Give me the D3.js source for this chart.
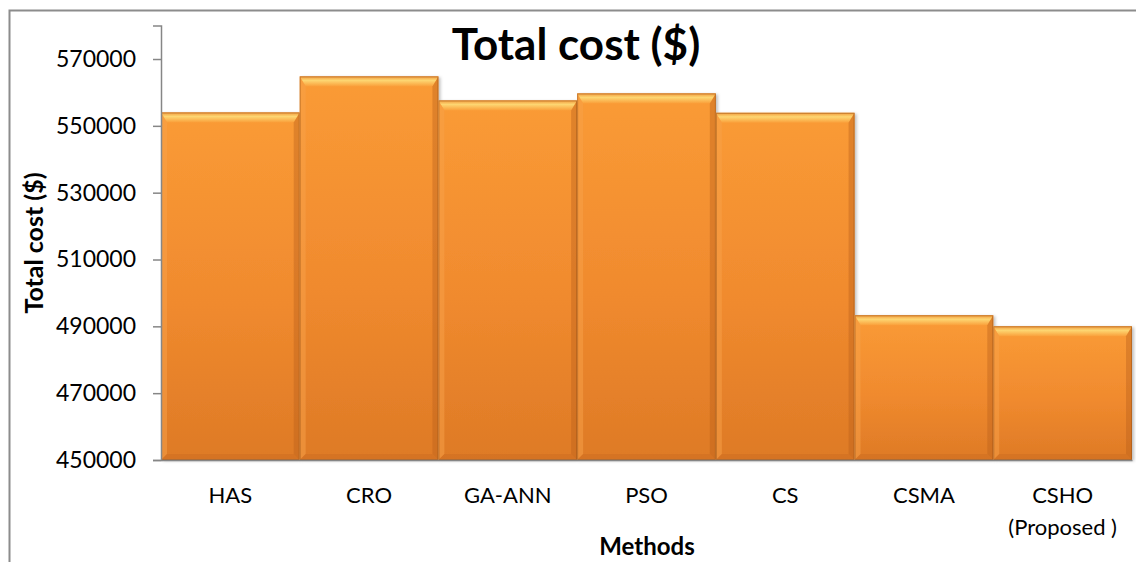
<!DOCTYPE html>
<html>
<head>
<meta charset="utf-8">
<script src="https://cdn.jsdelivr.net/npm/d3@7/dist/d3.min.js"></script>
<style>
  html, body { margin: 0; padding: 0; background: #fff; }
  svg { display: block; font-family: Lato, "Open Sans", sans-serif; }
</style>
</head>
<body>
<svg id="chart" width="1136" height="562"></svg>
<script>
// ---- data ----
const categories = ["HAS", "CRO", "GA-ANN", "PSO", "CS", "CSMA", "CSHO\n(Proposed )"];
const values = [554000, 564800, 557600, 559700, 553900, 493300, 490000];
const yTicks = [450000, 470000, 490000, 510000, 530000, 550000, 570000];
const chartTitle = "Total cost ($)";
const yTitle = "Total cost ($)";
const xTitle = "Methods";

const svg = d3.select("#chart");
const W = 1136, H = 562;
const plot = { left: 161, right: 1132, top: 25.6, bottom: 460 };

// outer border (left and top visible)
svg.append("path")
  .attr("d", `M9.5,${H} L9.5,10.5 L${W},10.5`)
  .attr("fill", "none").attr("stroke", "#8c8c8c").attr("stroke-width", 2);

const x = d3.scaleBand().domain(categories).range([plot.left, plot.right]).padding(0);
const y = d3.scaleLinear().domain([450000, 580000]).range([plot.bottom, plot.top]);

const defs = svg.append("defs");
const g1 = defs.append("linearGradient").attr("id", "barGrad").attr("x1", 0).attr("y1", 0).attr("x2", 0).attr("y2", 1);
g1.append("stop").attr("offset", "0%").attr("stop-color", "#fa9b36");
g1.append("stop").attr("offset", "55%").attr("stop-color", "#f08a2e");
g1.append("stop").attr("offset", "100%").attr("stop-color", "#de7a26");

const gTop = defs.append("linearGradient").attr("id", "topBevel").attr("x1", 0).attr("y1", 0).attr("x2", 0).attr("y2", 1);
gTop.append("stop").attr("offset", "0%").attr("stop-color", "#f29a3c");
gTop.append("stop").attr("offset", "40%").attr("stop-color", "#fdd672");
gTop.append("stop").attr("offset", "100%").attr("stop-color", "#fa9f3a");

const shadow = defs.append("filter").attr("id", "shadow").attr("x", "-5%").attr("y", "-5%").attr("width", "115%").attr("height", "115%");
shadow.append("feDropShadow").attr("dx", 2).attr("dy", 1).attr("stdDeviation", 1.5).attr("flood-color", "#000").attr("flood-opacity", 0.25);

// bars
const bars = svg.append("g").selectAll("g").data(categories).join("g");
bars.each(function(c, i) {
  const gx = d3.select(this);
  const x0 = x(c), w = x.bandwidth(), y0 = y(values[i]), h = y(450000) - y(values[i]);
  const x1 = x0 + w, y1 = y0 + h;
  const bt = 10, bs = 6, bb = 6;
  gx.append("rect").attr("x", x0).attr("y", y0).attr("width", w).attr("height", h)
    .attr("fill", "url(#barGrad)").attr("filter", "url(#shadow)");
  // top bevel
  gx.append("polygon").attr("points", `${x0},${y0} ${x1},${y0} ${x1 - bs},${y0 + bt} ${x0 + bs},${y0 + bt}`)
    .attr("fill", "url(#topBevel)");
  // left bevel
  gx.append("polygon").attr("points", `${x0},${y0} ${x0 + bs},${y0 + bt} ${x0 + bs},${y1 - bb} ${x0},${y1}`)
    .attr("fill", "#f7a24a").attr("opacity", 0.5);
  // right bevel
  gx.append("polygon").attr("points", `${x1},${y0} ${x1 - bs},${y0 + bt} ${x1 - bs},${y1 - bb} ${x1},${y1}`)
    .attr("fill", "#b85f1c").attr("opacity", 0.4);
  // bottom bevel
  gx.append("polygon").attr("points", `${x0},${y1} ${x0 + bs},${y1 - bb} ${x1 - bs},${y1 - bb} ${x1},${y1}`)
    .attr("fill", "#c96a20").attr("opacity", 0.4);
  // outline
  gx.append("rect").attr("x", x0 + 0.5).attr("y", y0 + 0.5).attr("width", w - 1).attr("height", h - 1)
    .attr("fill", "none").attr("stroke", "#9a5418").attr("stroke-opacity", 0.5).attr("stroke-width", 1);
});

// y axis
const yAxis = d3.axisLeft(y).tickValues(yTicks).tickSize(8).tickPadding(17).tickFormat(d3.format("d"));
const ya = svg.append("g").attr("transform", `translate(${plot.left},0)`).call(yAxis);
ya.select(".domain").attr("stroke", "#868686").attr("stroke-width", 1.5);
ya.selectAll(".tick line").attr("stroke", "#868686").attr("stroke-width", 1.5);
ya.selectAll(".tick text").attr("font-size", 23).attr("fill", "#000").attr("font-family", "Lato, sans-serif");

// x axis
const xAxis = d3.axisBottom(x).tickSize(0).tickPadding(0).tickFormat("");
const xa = svg.append("g").attr("transform", `translate(0,${plot.bottom})`).call(xAxis);
xa.select(".domain").attr("stroke", "#868686").attr("stroke-width", 1.5);
xa.selectAll(".tick").each(function(c) {
  const lines = c.split("\n");
  const t = d3.select(this).append("text").attr("fill", "#000").attr("font-size", 22)
    .attr("text-anchor", "middle").attr("font-family", "Lato, sans-serif");
  lines.forEach((ln, k) => t.append("tspan").attr("x", 0).attr("y", 43 + k * 32).text(ln));
});

// titles
svg.append("text").attr("x", 576).attr("y", 60).attr("text-anchor", "middle")
  .attr("font-size", 44).attr("font-weight", "bold").attr("fill", "#000").text(chartTitle);
svg.append("text").attr("transform", "translate(43,243) rotate(-90)").attr("text-anchor", "middle")
  .attr("font-size", 25).attr("font-weight", "bold").attr("fill", "#000").text(yTitle);
svg.append("text").attr("x", 647).attr("y", 555).attr("text-anchor", "middle")
  .attr("font-size", 24).attr("font-weight", "bold").attr("fill", "#000").text(xTitle);
</script>
</body>
</html>
